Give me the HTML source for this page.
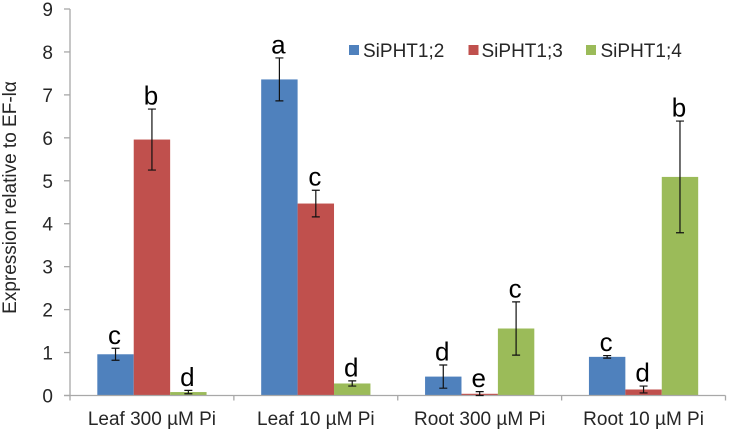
<!DOCTYPE html>
<html>
<head>
<meta charset="utf-8">
<title>Expression relative to EF-1α</title>
<style>
html,body{margin:0;padding:0;background:#fff;}
svg{display:block;font-family:"Liberation Sans",sans-serif;}
</style>
</head>
<body>
<svg id="chart" width="729" height="432" viewBox="0 0 729 432" xmlns="http://www.w3.org/2000/svg"></svg>
<script>
const categories = ["Leaf 300 µM Pi", "Leaf 10 µM Pi", "Root 300 µM Pi", "Root 10 µM Pi"];
const seriesNames = ["SiPHT1;2", "SiPHT1;3", "SiPHT1;4"];
const seriesColors = ["#4f81bd", "#c0504d", "#9bbb59"];
const valuesA = [0.96, 7.36, 0.44, 0.90];
const valuesB = [5.96, 4.47, 0.04, 0.14];
const valuesC = [0.08, 0.28, 1.56, 5.09];
const errorsA = [0.14, 0.50, 0.27, 0.03];
const errorsB = [0.71, 0.31, 0.05, 0.08];
const errorsC = [0.04, 0.06, 0.62, 1.30];
const lettersA = ["c", "a", "d", "c"];
const lettersB = ["b", "c", "e", "d"];
const lettersC = ["d", "d", "c", "b"];
const yTicks = [0, 1, 2, 3, 4, 5, 6, 7, 8, 9];

const svg = document.getElementById('chart');
const NS = 'http://www.w3.org/2000/svg';
const plotLeft = 70, plotRight = 725.5, plotBottom = 395.5, plotTop = 9;
const yMax = 9;
const axisColor = '#a8a8a8';
const textColor = '#262626';
const labelSize = 19;
const groupW = (plotRight - plotLeft) / categories.length;
const barW = groupW / 4.5;
const y = v => plotBottom - (v / yMax) * (plotBottom - plotTop);
const groupX = i => plotLeft + i * groupW;
const barX = (i, s) => groupX(i) + barW * 0.75 + s * barW;

function make(tag, attrs, text) {
  const el = document.createElementNS(NS, tag);
  for (const k in attrs) el.setAttribute(k, attrs[k]);
  if (text !== undefined) el.textContent = text;
  svg.appendChild(el);
  return el;
}

const allValues = [valuesA, valuesB, valuesC];
const allErrors = [errorsA, errorsB, errorsC];
const allLetters = [lettersA, lettersB, lettersC];

// bars
allValues.forEach((vals, s) => {
  vals.forEach((v, i) => {
    const bar = make('rect', {x: barX(i, s), y: y(v), width: barW, height: plotBottom - y(v), fill: seriesColors[s]});
    
    
  });
});

// axes
const yAxis = make('line', {x1: plotLeft, x2: plotLeft, y1: plotTop, y2: plotBottom + 5, stroke: axisColor, 'stroke-width': 1.3});


const xAxis = make('line', {x1: plotLeft - 6, x2: plotRight, y1: plotBottom, y2: plotBottom, stroke: axisColor, 'stroke-width': 1.3});



yTicks.forEach(t => {
  const tick = make('line', {x1: plotLeft - 6, x2: plotLeft, y1: y(t), y2: y(t), stroke: axisColor, 'stroke-width': 1.3});
  
  
  const label = make('text', {x: 53, y: y(t) + 7, 'text-anchor': 'end', 'font-size': labelSize, fill: textColor}, String(t));
  
  
});

categories.forEach((c, i) => {
  const tick = make('line', {x1: groupX(i + 1), x2: groupX(i + 1), y1: plotBottom, y2: plotBottom + 5, stroke: axisColor, 'stroke-width': 1.3});
  
  
  const label = make('text', {x: groupX(i) + groupW / 2, y: 425, 'text-anchor': 'middle', 'font-size': labelSize, fill: textColor}, c);
  
  
});

// error bars and significance letters
allValues.forEach((vals, s) => {
  vals.forEach((v, i) => {
    const e = allErrors[s][i];
    const cx = barX(i, s) + barW / 2;
    const top = y(v + e), bot = y(Math.max(v - e, 0));
    const d = 'M' + cx + ' ' + top + 'V' + bot + 'M' + (cx - 4) + ' ' + top + 'H' + (cx + 4) + 'M' + (cx - 4) + ' ' + bot + 'H' + (cx + 4);
    const err = make('path', {d: d, stroke: '#111', 'stroke-width': 1.2, fill: 'none'});
    
    
    const letter = make('text', {x: cx - 1, y: top - 4.5, 'text-anchor': 'middle', 'font-size': 26, fill: '#000'}, allLetters[s][i]);
    
    
  });
});

// legend
const legendSwatchX = [349, 468.5, 586];
const legendTextX = [363, 481.5, 600.5];
seriesNames.forEach((n, s) => {
  const sw = make('rect', {x: legendSwatchX[s], y: 45, width: 10, height: 10, fill: seriesColors[s]});
  
  
  const label = make('text', {x: legendTextX[s], y: 57, 'font-size': labelSize, fill: textColor}, n);
  
  
});

// y axis title
const title = make('text', {transform: 'translate(16,197.5) rotate(-90)', 'text-anchor': 'middle', 'font-size': labelSize, fill: textColor}, 'Expression relative to EF-lα');


</script>
</body>
</html>
